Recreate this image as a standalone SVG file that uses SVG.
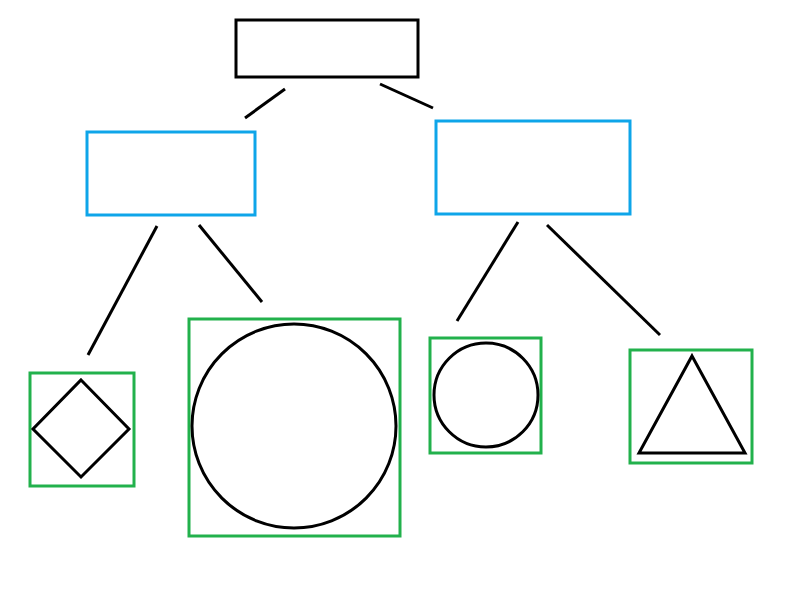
<svg xmlns="http://www.w3.org/2000/svg" width="800" height="595" viewBox="0 0 800 595">
<style>.k{fill:none;stroke:#000;stroke-width:3}.b{fill:none;stroke:#0ea5e9;stroke-width:3}.g{fill:none;stroke:#22b14c;stroke-width:3}</style>
<rect width="800" height="595" fill="#fff"/>
<g id="root"><rect class="k" x="236" y="20" width="182" height="57"/></g>
<g id="left"><rect class="b" x="87" y="132" width="168" height="83"/></g>
<g id="right"><rect class="b" x="436" y="121" width="194" height="93"/></g>
<g id="diamond"><rect class="g" x="30" y="373" width="104" height="113"/><polygon class="k" points="81,380 129,429 81,477 33,429"/></g>
<g id="bigcircle"><rect class="g" x="189" y="319" width="211" height="217"/><circle class="k" cx="294" cy="426" r="102"/></g>
<g id="smallcircle"><rect class="g" x="430" y="338" width="111" height="115"/><circle class="k" cx="486" cy="395" r="52"/></g>
<g id="triangle"><rect class="g" x="630" y="350" width="122" height="113"/><polygon class="k" points="692,356 745,453 639,453"/></g>
<g id="connectors" class="k">
<line x1="285" y1="89" x2="245" y2="118"/>
<line x1="380" y1="84" x2="433" y2="108"/>
<line x1="157" y1="226" x2="88" y2="355"/>
<line x1="199" y1="225" x2="262" y2="302"/>
<line x1="518" y1="222" x2="457" y2="321"/>
<line x1="547" y1="225" x2="660" y2="335"/>
</g>
</svg>
